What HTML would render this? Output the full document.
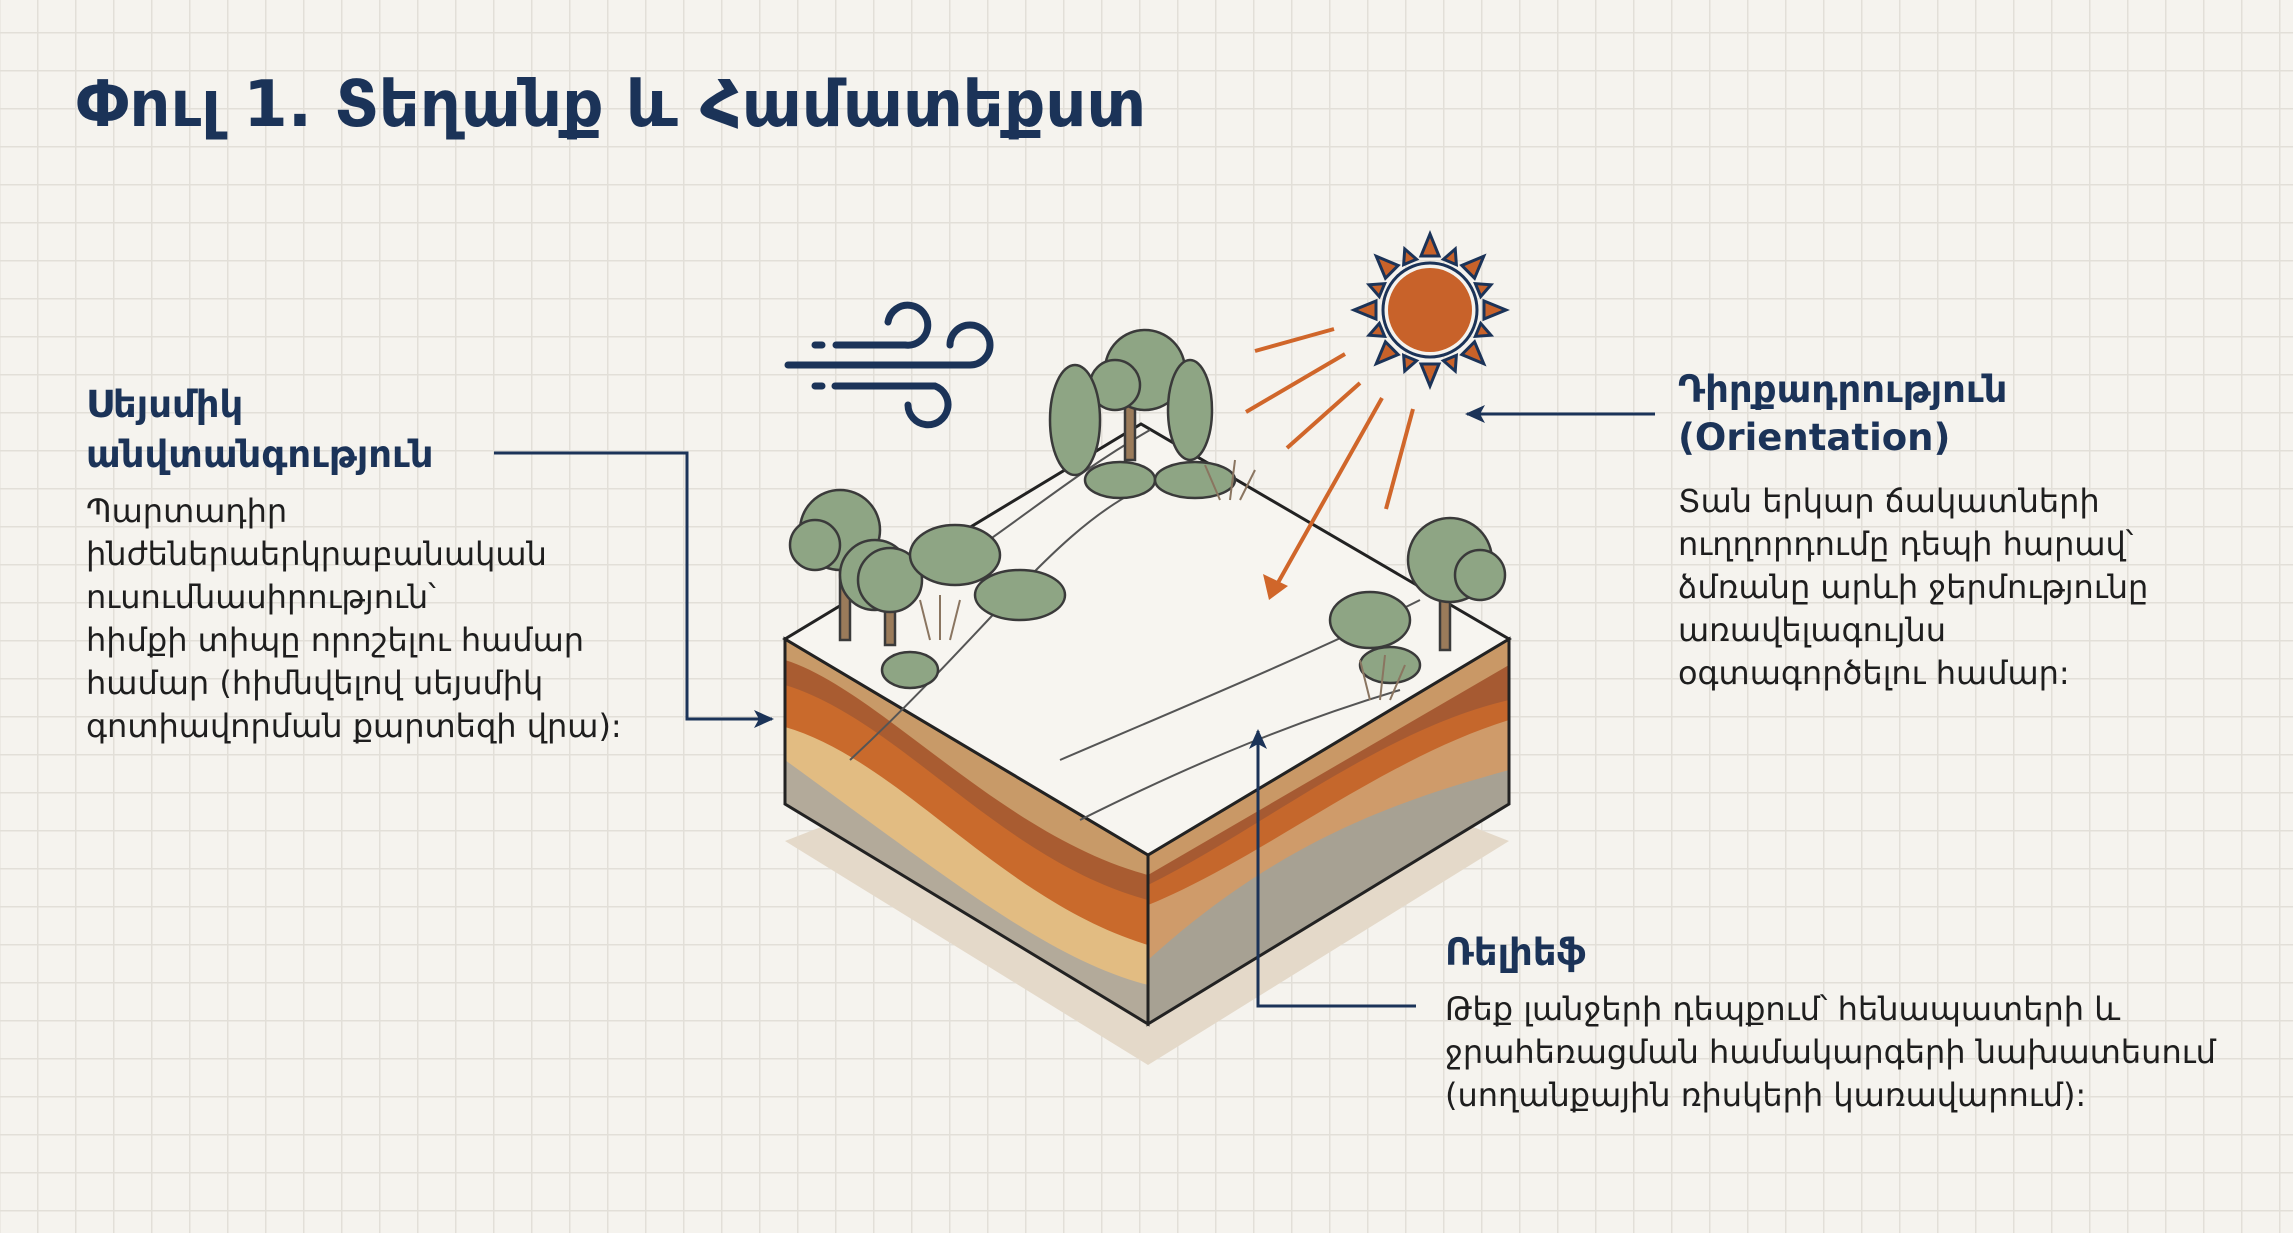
<!DOCTYPE html>
<html><head><meta charset="utf-8">
<style>
html,body{margin:0;padding:0;}
body{width:2293px;height:1233px;overflow:hidden;position:relative;
background-color:#f5f3ee;
background-image:linear-gradient(to right,#e2dfd8 1.5px,transparent 1.5px),linear-gradient(to bottom,#e2dfd8 1.5px,transparent 1.5px);
background-size:38px 38px;background-position:37px 32px;
font-family:"DejaVu Sans","Liberation Sans",sans-serif;color:#1a1a1a;}
.t{position:absolute;white-space:nowrap;}
.h{color:#1b3358;font-weight:bold;}
.b{font-size:32px;line-height:43px;color:#1e1e1e;}
svg{position:absolute;left:0;top:0;}
</style></head><body>
<svg width="2293" height="1233" viewBox="0 0 2293 1233">
<defs>
<marker id="ar" markerWidth="20" markerHeight="18" refX="18" refY="9" orient="auto" markerUnits="userSpaceOnUse" viewBox="0 0 20 18"><path d="M0,0 L20,9 L0,18 L5,9 z" fill="#1b3358"/></marker>
</defs>
<polygon points="785,841 1148,1065 1509,841 1148,700" fill="#e4d9c9"/>
<polygon points="785,639 1148,855 1148,1024 785,804" fill="#b3aa9a"/>
<path d="M785,639 L1148,855 L1148,985 C1050,960 950,880 785,760 Z" fill="#e2bc82"/>
<path d="M785,639 L1148,855 L1148,945 C1000,900 900,760 785,727 Z" fill="#c96a2c"/>
<path d="M785,639 L1148,855 L1148,900 C1000,860 900,720 785,685 Z" fill="#a95c31"/>
<path d="M785,639 L1148,855 L1148,875 C1000,835 880,690 785,660 Z" fill="#c89a68"/>
<polygon points="1148,855 1509,639 1509,804 1148,1024" fill="#a7a193"/>
<path d="M1148,855 L1509,639 L1509,770 C1400,800 1280,840 1148,960 Z" fill="#cf9b6a"/>
<path d="M1148,855 L1509,639 L1509,720 C1380,760 1260,860 1148,905 Z" fill="#c5672c"/>
<path d="M1148,855 L1509,639 L1509,700 C1380,730 1260,830 1148,885 Z" fill="#a65a32"/>
<path d="M1148,855 L1509,639 L1509,665 L1148,875 Z" fill="#c99866"/>
<polygon points="785,639 1148,855 1148,1024 785,804" fill="none" stroke="#222" stroke-width="3"/>
<polygon points="1148,855 1509,639 1509,804 1148,1024" fill="none" stroke="#222" stroke-width="3"/>
<polygon points="785,639 1141,424 1509,639 1148,855" fill="#f7f5f0" stroke="#222" stroke-width="3"/>
<path d="M960,560 C1020,520 1080,470 1150,430" fill="none" stroke="#555" stroke-width="2"/>
<path d="M850,760 C1000,620 1060,520 1160,480" fill="none" stroke="#555" stroke-width="2"/>
<path d="M1060,760 C1200,700 1320,650 1420,600" fill="none" stroke="#555" stroke-width="2"/>
<path d="M1080,820 C1200,760 1300,720 1400,690" fill="none" stroke="#555" stroke-width="2"/>
<g fill="#8ea584" stroke="#3a3a3a" stroke-width="2.5">
<rect x="840" y="540" width="10" height="100" fill="#9a7b5a"/>
<circle cx="840" cy="530" r="40"/><circle cx="815" cy="545" r="25"/><circle cx="875" cy="575" r="35"/>
<rect x="885" y="580" width="10" height="65" fill="#9a7b5a"/>
<circle cx="890" cy="580" r="32"/>
<ellipse cx="955" cy="555" rx="45" ry="30"/>
<ellipse cx="1020" cy="595" rx="45" ry="25"/>
<ellipse cx="910" cy="670" rx="28" ry="18"/>
<rect x="1125" y="390" width="10" height="70" fill="#9a7b5a"/>
<circle cx="1145" cy="370" r="40"/><circle cx="1115" cy="385" r="25"/>
<ellipse cx="1075" cy="420" rx="25" ry="55"/>
<ellipse cx="1190" cy="410" rx="22" ry="50"/>
<ellipse cx="1120" cy="480" rx="35" ry="18"/><ellipse cx="1195" cy="480" rx="40" ry="18"/>
<rect x="1440" y="570" width="10" height="80" fill="#9a7b5a"/>
<circle cx="1450" cy="560" r="42"/><circle cx="1480" cy="575" r="25"/>
<ellipse cx="1370" cy="620" rx="40" ry="28"/>
<ellipse cx="1390" cy="665" rx="30" ry="18"/>
</g>
<g stroke="#8a7560" stroke-width="2" fill="none">
<path d="M930,640 l-10,-40 M940,640 l0,-45 M950,640 l10,-40 M1220,500 l-15,-35 M1230,500 l5,-40 M1240,500 l15,-30 M1370,700 l-10,-40 M1380,700 l5,-45 M1390,700 l15,-35"/>
</g>
<g stroke="#d0662a" stroke-width="4">
<line x1="1255" y1="351" x2="1334" y2="329"/>
<line x1="1246" y1="412" x2="1345" y2="354"/>
<line x1="1287" y1="448" x2="1360" y2="383"/>
<line x1="1386" y1="509" x2="1413" y2="409"/>
<line x1="1382" y1="398" x2="1275" y2="588"/>
</g>
<polygon points="1269,600 1263,574 1288,586" fill="#d0662a"/>
<g transform="translate(1430,310)">
<g fill="#c8622a" stroke="#1b3358" stroke-width="3">
<polygon points="-9,-54 9,-54 0,-76"/><polygon points="-9,54 9,54 0,76"/>
<polygon points="-54,-9 -54,9 -76,0"/><polygon points="54,-9 54,9 76,0"/>
<g transform="rotate(45)"><polygon points="-9,-54 9,-54 0,-76"/><polygon points="-9,54 9,54 0,76"/><polygon points="-54,-9 -54,9 -76,0"/><polygon points="54,-9 54,9 76,0"/></g>
<g transform="rotate(22.5)"><polygon points="-7,-52 7,-52 0,-66"/><polygon points="-7,52 7,52 0,66"/><polygon points="-52,-7 -52,7 -66,0"/><polygon points="52,-7 52,7 66,0"/></g>
<g transform="rotate(67.5)"><polygon points="-7,-52 7,-52 0,-66"/><polygon points="-7,52 7,52 0,66"/><polygon points="-52,-7 -52,7 -66,0"/><polygon points="52,-7 52,7 66,0"/></g>
</g>
<circle r="47" fill="#f5f3ee" stroke="#1b3358" stroke-width="3"/>
<circle r="42" fill="#c8622a"/>
</g>
<g stroke="#1b3358" stroke-width="7" fill="none" stroke-linecap="round">
<line x1="815" y1="345" x2="822" y2="345"/>
<path d="M836,345 H905 A20,20 0 1 0 888,322"/>
<path d="M788,365 H970 A20,20 0 1 0 950,345"/>
<line x1="815" y1="386" x2="822" y2="386"/>
<path d="M835,386 H935 A20,20 0 1 1 908,405"/>
</g>
<g stroke="#1b3358" stroke-width="3" fill="none">
<polyline points="494,453 687,453 687,719 772,719" marker-end="url(#ar)"/>
<polyline points="1655,414 1467,414" marker-end="url(#ar)"/>
<polyline points="1416,1006 1258,1006 1258,731" marker-end="url(#ar)"/>
</g>
</svg>

<div class="t h" style="left:76px;top:68px;font-size:64px;">Փուլ 1. Տեղանք և Համատեքստ</div>

<div class="t h" style="left:86px;top:380px;font-size:37px;line-height:50px;">Սեյսմիկ<br>անվտանգություն</div>
<div class="t b" style="left:86px;top:490px;">Պարտադիր<br>ինժեներաերկրաբանական<br>ուսումնասիրություն՝<br>հիմքի տիպը որոշելու համար<br>համար (հիմնվելով սեյսմիկ<br>գոտիավորման քարտեզի վրա):</div>

<div class="t h" style="left:1678px;top:366px;font-size:37px;line-height:48px;">Դիրքադրություն<br>(Orientation)</div>
<div class="t b" style="left:1678px;top:480px;">Տան երկար ճակատների<br>ուղղորդումը դեպի հարավ՝<br>ձմռանը արևի ջերմությունը<br>առավելագույնս<br>օգտագործելու համար:</div>

<div class="t h" style="left:1445px;top:928px;font-size:37px;line-height:50px;">Ռելիեֆ</div>
<div class="t b" style="left:1445px;top:988px;">Թեք լանջերի դեպքում՝ հենապատերի և<br>ջրահեռացման համակարգերի նախատեսում<br>(սողանքային ռիսկերի կառավարում):</div>
</body></html>
